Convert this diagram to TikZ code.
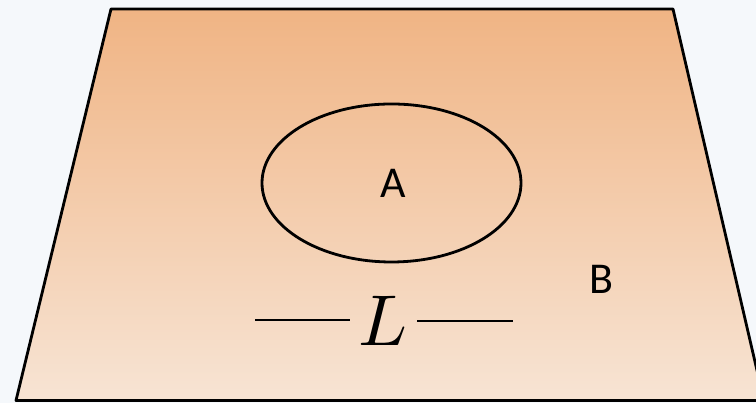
\documentclass[tikz,border=0pt]{standalone}
\usepackage{fontspec}
\usepackage{graphicx}
\usetikzlibrary{shapes.geometric}
\newfontfamily\labelfont{Carlito}
\definecolor{bgc}{RGB}{245,248,251}
\definecolor{topc}{RGB}{240,180,132}
\definecolor{botc}{RGB}{247,228,212}
\begin{document}
\begin{tikzpicture}[x=1pt,y=1pt,
  outline/.style={draw=black,line width=2.8pt,line join=round},
  lbl/.style={inner sep=0pt}]
\useasboundingbox (0,0) rectangle (756,403);
\fill[bgc] (0,0) rectangle (756,403);
\begin{scope}
\clip (0,0) rectangle (756,403);
\shade[top color=topc,bottom color=botc] (16,2.5) -- (111,394) -- (673,394) -- (764,2.5) -- cycle;
\draw[outline] (16,2.5) -- (111,394) -- (673,394) -- (764,2.5) -- cycle;
\end{scope}
\node[outline,ellipse,minimum width=259,minimum height=158,inner sep=0pt] (e) at (391.5,220) {};
\node[lbl] (A) at (393,220) {\scalebox{4.4}{\labelfont A}};
\node[lbl] (B) at (601,124) {\scalebox{4.4}{\labelfont B}};
\node[inner sep=0pt] (L) at (383,82) {\scalebox{7.2}{$L$}};
\coordinate (l1) at (255,83);
\coordinate (l2) at (350,83);
\coordinate (r1) at (417,82);
\coordinate (r2) at (513,82);
\draw[line width=2.2pt] (l1) -- (l2);
\draw[line width=2.2pt] (r1) -- (r2);
\end{tikzpicture}
\end{document}
